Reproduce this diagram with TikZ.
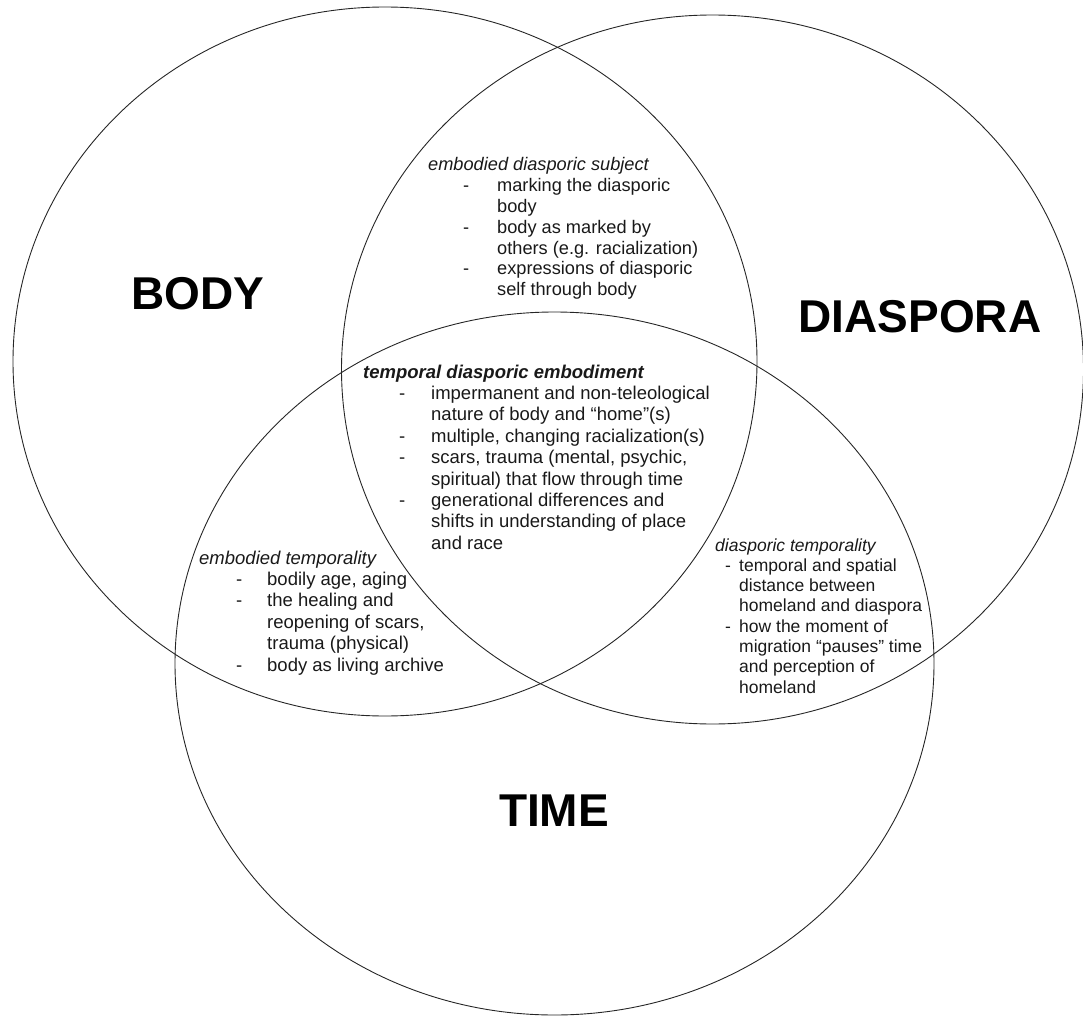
\documentclass[tikz,border=0pt]{standalone}
\usepackage{fontspec}
\setmainfont{Liberation Sans}
\newcommand\dsh[2]{\hspace*{#1}\makebox[#2][l]{-}}
\begin{document}
\begin{tikzpicture}[x=1pt,y=-1pt,
  ring/.style={line width=0.9pt, draw=black!85},
  big/.style={font=\fontsize{46}{50}\selectfont\bfseries, inner sep=0},
  blk/.style={anchor=base west, inner sep=0, align=left, text=black!90}]
\useasboundingbox (0,0) rectangle (1083,1016);
% circles
\draw[ring] (385,361.5) ellipse [x radius=372pt, y radius=354.5pt];
\draw[ring] (712.5,369.5) ellipse [x radius=371pt, y radius=354.5pt];
\draw[ring] (554.5,663.5) ellipse [x radius=379.5pt, y radius=351.5pt];
% big labels
\node[big] (body) at (198,294) {BODY};
\node[big] (diaspora) at (920,317) {DIASPORA};
\node[big] (time) at (554,811) {TIME};
% top intersection
\node[blk, font=\fontsize{18.2}{20.8}\selectfont] (subj) at (428,171) {\begin{tabular}[t]{@{}l@{}}
\textit{embodied diasporic subject}\\
\dsh{35pt}{34pt}marking the diasporic\\
\hspace*{69pt}body\\
\dsh{35pt}{34pt}body as marked by\\
\hspace*{69pt}others (e.g. racialization)\\
\dsh{35pt}{34pt}expressions of diasporic\\
\hspace*{69pt}self through body
\end{tabular}};
% centre
\node[blk, font=\fontsize{18.5}{21.4}\selectfont] (centre) at (363,378) {\begin{tabular}[t]{@{}l@{}}
\textbf{\textit{temporal diasporic embodiment}}\\
\dsh{36pt}{32pt}impermanent and non-teleological\\
\hspace*{68pt}nature of body and “home”(s)\\
\dsh{36pt}{32pt}multiple, changing racialization(s)\\
\dsh{36pt}{32pt}scars, trauma (mental, psychic,\\
\hspace*{68pt}spiritual) that flow through time\\
\dsh{36pt}{32pt}generational differences and\\
\hspace*{68pt}shifts in understanding of place\\
\hspace*{68pt}and race
\end{tabular}};
% left
\node[blk, font=\fontsize{18.5}{21.4}\selectfont] (embt) at (199,564) {\begin{tabular}[t]{@{}l@{}}
\textit{embodied temporality}\\
\dsh{37pt}{31pt}bodily age, aging\\
\dsh{37pt}{31pt}the healing and\\
\hspace*{68pt}reopening of scars,\\
\hspace*{68pt}trauma (physical)\\
\dsh{37pt}{31pt}body as living archive
\end{tabular}};
% right
\node[blk, font=\fontsize{17.5}{20.3}\selectfont] (diat) at (715,551) {\begin{tabular}[t]{@{}l@{}}
\textit{diasporic temporality}\\
\dsh{10pt}{14pt}temporal and spatial\\
\hspace*{24pt}distance between\\
\hspace*{24pt}homeland and diaspora\\
\dsh{10pt}{14pt}how the moment of\\
\hspace*{24pt}migration “pauses” time\\
\hspace*{24pt}and perception of\\
\hspace*{24pt}homeland
\end{tabular}};
\end{tikzpicture}
\end{document}
